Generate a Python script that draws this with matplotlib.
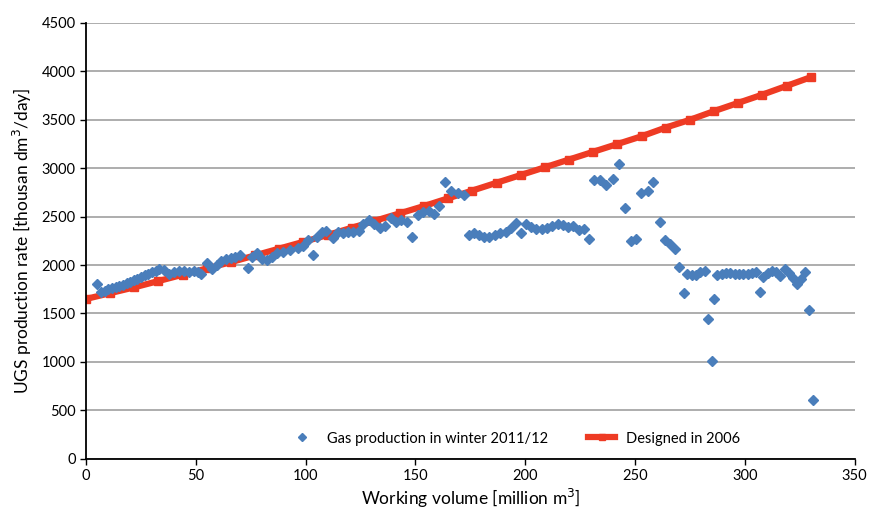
import matplotlib.pyplot as plt
import numpy as np

plt.rcParams['font.family'] = ['Lato', 'DejaVu Sans']

# winter 2011/12 measured production
vol_2011 = [4.9, 6.9, 8.5, 10.2, 11.8, 13.5, 15.2, 16.8, 18.5, 20.1, 21.8, 23.4, 25.1,
            26.8, 28.4, 30.1, 31.7, 33.4, 35.6, 37.9, 40.1, 42.4, 44.5, 46.8, 49.0,
            51.0, 52.2, 55.3, 57.2, 59.5, 61.7, 63.9, 66.0, 68.0, 70.0, 73.7, 75.5,
            77.8, 80.0, 82.3, 84.6, 86.9, 89.9, 92.9, 96.7, 98.9, 101.2, 103.5, 105.0,
            107.3, 109.5, 112.5, 114.8, 117.0, 119.3, 121.6, 124.2, 126.1, 128.7,
            131.2, 133.7, 136.0, 139.0, 141.3, 143.5, 146.0, 148.5, 151.0, 153.4,
            156.0, 158.3, 160.9, 163.6, 166.2, 169.2, 172.2, 174.5, 176.8, 179.0,
            181.3, 183.5, 186.3, 188.5, 191.2, 193.4, 195.7, 198.0, 200.2, 202.5,
            205.0, 207.5, 209.8, 212.3, 214.9, 217.1, 219.5, 221.8, 224.4, 226.7,
            228.9, 231.2, 234.2, 236.9, 239.8, 242.5, 245.6, 248.3, 250.5, 252.8,
            255.7, 258.4, 261.2, 263.7, 266.0, 268.2, 270.2, 272.3, 273.8, 275.8,
            277.6, 279.6, 281.8, 283.3, 285.0, 286.0, 287.4, 289.4, 291.4, 293.4,
            295.4, 297.4, 299.4, 301.4, 303.2, 305.0, 306.8, 308.3, 310.5, 312.5,
            314.3, 316.1, 318.1, 320.0, 321.9, 323.7, 325.6, 327.4, 329.1, 330.9]
rate_2011 = [1801, 1719, 1735, 1750, 1760, 1770, 1780, 1790, 1810, 1830, 1845, 1860,
             1880, 1895, 1910, 1925, 1940, 1960, 1945, 1905, 1925, 1942, 1935, 1930,
             1935, 1925, 1905, 2018, 1956, 2000, 2040, 2060, 2075, 2087, 2100, 1973,
             2087, 2122, 2060, 2053, 2087, 2122, 2139, 2156, 2174, 2200, 2259, 2104,
             2293, 2339, 2355, 2277, 2339, 2330, 2339, 2345, 2352, 2421, 2466, 2420,
             2380, 2404, 2483, 2448, 2466, 2442, 2287, 2518, 2545, 2562, 2525, 2614,
             2862, 2766, 2742, 2724, 2311, 2335, 2311, 2293, 2293, 2311, 2328, 2345,
             2386, 2432, 2335, 2425, 2390, 2375, 2370, 2380, 2404, 2425, 2414,
             2397, 2404, 2363, 2370, 2266, 2879, 2879, 2827, 2886, 3041, 2587, 2252,
             2266, 2748, 2766, 2855, 2445, 2259, 2218, 2170, 1977, 1715, 1908, 1898,
             1898, 1926, 1942, 1440, 1009, 1647, 1900, 1910, 1915, 1915, 1910, 1905,
             1910, 1912, 1915, 1932, 1725, 1880, 1921, 1942, 1932, 1887, 1956, 1921,
             1870, 1801, 1853, 1932, 1536, 606]

# design curve 2006
vol_2006 = [0, 11, 22, 33, 44, 55, 66, 77, 88, 99, 110, 121, 132, 143, 154, 165,
            176, 187, 198, 209, 220, 231, 242, 253, 264, 275, 286, 297, 308, 319, 330]
rate_2006 = [1650, 1710, 1770, 1835, 1900, 1965, 2030, 2100, 2170, 2240, 2310, 2385,
             2460, 2535, 2610, 2690, 2770, 2850, 2930, 3010, 3090, 3170, 3250, 3330,
             3420, 3500, 3590, 3675, 3760, 3850, 3940]

fig = plt.figure(figsize=(8.71, 5.11), dpi=100)
ax = fig.add_axes([0.0987, 0.1023, 0.8825, 0.8527])

ax.plot(vol_2011, rate_2011, linestyle='none', marker='D', markersize=5,
        color='#4a7ebb', label='Gas production in winter 2011/12', zorder=3)
ax.plot(vol_2006, rate_2006, color='#ee3b24', linewidth=4.5, marker='s',
        markersize=6, label='Designed in 2006', zorder=2)

ax.set_xlim(0, 350)
ax.set_ylim(0, 4500)
ax.set_xticks(np.arange(0, 351, 50))
ax.set_yticks(np.arange(0, 4501, 500))
ax.yaxis.grid(True, color='#a0a0a0', linewidth=1.2)
ax.set_axisbelow(True)
for s in ['top', 'right']:
    ax.spines[s].set_visible(False)
ax.spines['left'].set_linewidth(1.3)
ax.spines['bottom'].set_linewidth(1.3)
ax.tick_params(labelsize=10.5, length=4, direction='out', width=1)

ax.set_xlabel('Working volume [million m$^3$]', fontsize=12.5, labelpad=3)
ax.set_ylabel('UGS production rate [thousan dm$^3$/day]', fontsize=12.5, labelpad=5)

ax.legend(loc='lower center', bbox_to_anchor=(0.558, 0.0), ncol=2, frameon=False,
          fontsize=10.5, columnspacing=2.75, handlelength=1.8, handletextpad=0.8,
          markerscale=0.8)

fig.savefig('out.png', dpi=100)
